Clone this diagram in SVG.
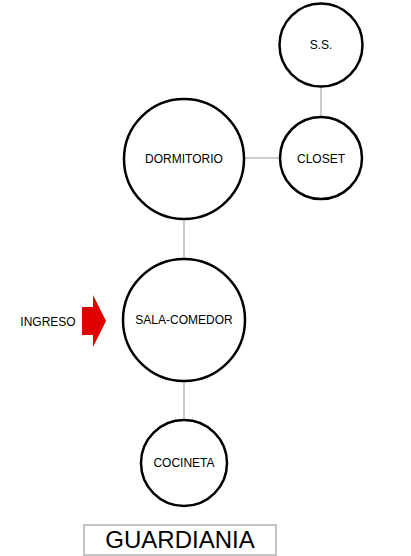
<svg xmlns="http://www.w3.org/2000/svg" width="411" height="556" viewBox="0 0 411 556">
<style>
.room{fill:#fff;stroke:#000;stroke-width:2.5}
.lbl{font-family:"Liberation Sans",Arial,sans-serif;font-size:12px;fill:#000;text-anchor:middle}
.conn{stroke:#999;stroke-width:1;fill:none}
</style>
<rect width="411" height="556" fill="#fff"/>
<g id="connectors">
<line class="conn" x1="321" y1="87" x2="321" y2="117"/>
<line class="conn" x1="244" y1="158" x2="280" y2="158"/>
<line class="conn" x1="184" y1="219" x2="184" y2="259"/>
<line class="conn" x1="184" y1="381" x2="184" y2="420"/>
</g>
<g id="ss"><circle class="room" cx="321" cy="45" r="41.5"/><text class="lbl" x="321" y="49">S.S.</text></g>
<g id="closet"><circle class="room" cx="321" cy="158" r="41"/><text class="lbl" x="321" y="163">CLOSET</text></g>
<g id="dormitorio"><circle class="room" cx="184" cy="159" r="60"/><text class="lbl" x="184" y="163">DORMITORIO</text></g>
<g id="sala"><circle class="room" cx="184" cy="320" r="61"/><text class="lbl" x="184" y="324">SALA-COMEDOR</text></g>
<g id="cocineta"><circle class="room" cx="184" cy="463" r="43"/><text class="lbl" x="184" y="467">COCINETA</text></g>
<g id="ingreso">
<text class="lbl" x="48" y="326">INGRESO</text>
<polygon points="82,307 93,307 93,295 106,321 93,347 93,335 82,335" fill="#e00000"/>
</g>
<g id="title">
<rect x="84" y="525" width="192" height="30" fill="none" stroke="#888" stroke-width="1"/>
<text x="180" y="548" font-family="Liberation Sans,Arial,sans-serif" font-size="24" text-anchor="middle">GUARDIANIA</text>
</g>
</svg>
